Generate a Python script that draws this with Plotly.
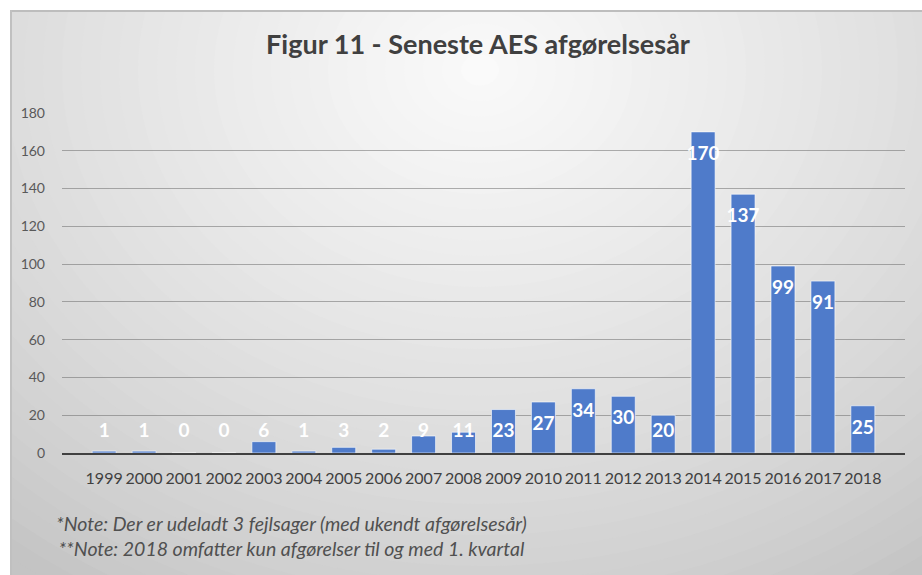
import numpy as np
from plotly import graph_objs as go

# data
years = ["1999", "2000", "2001", "2002", "2003", "2004", "2005", "2006", "2007", "2008",
         "2009", "2010", "2011", "2012", "2013", "2014", "2015", "2016", "2017", "2018"]
counts = [1, 1, 0, 0, 6, 1, 3, 2, 9, 11, 23, 27, 34, 30, 20, 170, 137, 99, 91, 25]
y_ticks = [0, 20, 40, 60, 80, 100, 120, 140, 160, 180]

title_text = "Figur 11 - Seneste AES afgørelsesår"
note_text = ("*Note: Der er udeladt 3 fejlsager (med ukendt afgørelsesår)<br>"
             "**Note: 2018 omfatter kun afgørelser til og med 1. kvartal")

W, H = 922, 575
ml, mr, mt, mb = 62, 17, 113, 122
pw, ph = W - ml - mr, H - mt - mb


def px_to_paper(x, y):
    return (x - ml) / pw, (H - mb - y) / ph


font_name = "Lato, 'Open Sans', sans-serif"

fig = go.Figure()

fig.add_trace(go.Bar(x=years, y=counts,
                     marker=dict(color="#4f7bca",
                                 line=dict(color="rgba(255,255,255,0.6)", width=1)),
                     hoverinfo="x+y", showlegend=False))

# Excel style "inside end" labels, pushed up for bars that are too short
counts_arr = np.array(counts, dtype=float)
label_y = np.maximum(counts_arr - 12.2, 10.8)
fig.add_trace(go.Scatter(x=years, y=label_y, mode="text",
                         text=[str(c) for c in counts],
                         textfont=dict(family=font_name, size=19, color="white",
                                       weight="bold"),
                         hoverinfo="skip", showlegend=False))

# radial gradient background of the chart area, made from stacked ellipses
shapes = []
x0, y0 = px_to_paper(10, H)
x1, y1 = px_to_paper(W + 2, 10)
shapes.append(dict(type="rect", xref="paper", yref="paper", x0=x0, y0=y0, x1=x1, y1=y1,
                   fillcolor="#c4c4c4", line=dict(width=0), layer="below"))
cx, cy = 480, 70
n = 40
for k in range(n):
    frac = 1 - k / n
    rx, ry = 760 * frac, 620 * frac
    shade = int(196 + (250 - 196) * (k / (n - 1)) ** 0.8)
    ex0, ey0 = px_to_paper(cx - rx, cy + ry)
    ex1, ey1 = px_to_paper(cx + rx, cy - ry)
    shapes.append(dict(type="circle", xref="paper", yref="paper",
                       x0=ex0, y0=ey0, x1=ex1, y1=ey1,
                       fillcolor="rgb(%d,%d,%d)" % (shade, shade, shade),
                       line=dict(width=0), layer="below"))
# clip the gradient back to the chart area with white margins
for (ax0, ay0, ax1, ay1) in [(-400, -400, 10, H + 400), (-400, -400, W + 400, 10),
                             (W + 1, -400, W + 400, H + 400), (-400, H, W + 400, H + 400)]:
    bx0, by0 = px_to_paper(ax0, ay1)
    bx1, by1 = px_to_paper(ax1, ay0)
    shapes.append(dict(type="rect", xref="paper", yref="paper", x0=bx0, y0=by0, x1=bx1, y1=by1,
                       fillcolor="white", line=dict(width=0), layer="below"))
tx0, ty0 = px_to_paper(10, 11)
tx1, _ = px_to_paper(W, 11)
shapes.append(dict(type="line", xref="paper", yref="paper", x0=tx0, y0=ty0, x1=tx1, y1=ty0,
                   line=dict(color="#bdbdbd", width=2), layer="below"))
lx0, ly0 = px_to_paper(11, H)
_, ly1 = px_to_paper(11, 10)
shapes.append(dict(type="line", xref="paper", yref="paper", x0=lx0, y0=ly0, x1=lx0, y1=ly1,
                   line=dict(color="#c0c0c0", width=2), layer="below"))

nx, ny = px_to_paper(291, 536)
fig.add_annotation(text=note_text, xref="paper", yref="paper", x=nx, y=ny,
                   xanchor="center", yanchor="middle", align="center", showarrow=False,
                   font=dict(family=font_name, size=19.5, color="#505050", style="italic"))

fig.update_layout(
    width=W, height=H,
    margin=dict(l=ml, r=mr, t=mt, b=mb, pad=0),
    title=dict(text=title_text, x=478 / W, xanchor="center", y=1 - 45 / H, yanchor="middle",
               font=dict(family=font_name, size=27, color="#404040", weight="bold")),
    font=dict(family=font_name, color="#404040"),
    bargap=0.4,
    shapes=shapes,
    paper_bgcolor="white",
    plot_bgcolor="rgba(0,0,0,0)",
)

fig.update_xaxes(type="category", showgrid=False, showline=True, linecolor="#404040",
                 linewidth=2, ticks="", ticklabelstandoff=10, tickangle=0,
                 tickfont=dict(family=font_name, size=16, color="#404040"))
fig.update_yaxes(range=[0, 180], tickvals=y_ticks, showgrid=True, gridwidth=1,
                 gridcolor="rgba(100,100,100,0.5)", zeroline=False, showline=False,
                 ticks="", ticklabelstandoff=16,
                 tickfont=dict(family=font_name, size=14, color="#595959"))

# the page is photographed from the top-left corner, so drop the default body margin
fig.write_html("out.html", config={"displayModeBar": False},
               post_script="document.body.style.margin='0';")
